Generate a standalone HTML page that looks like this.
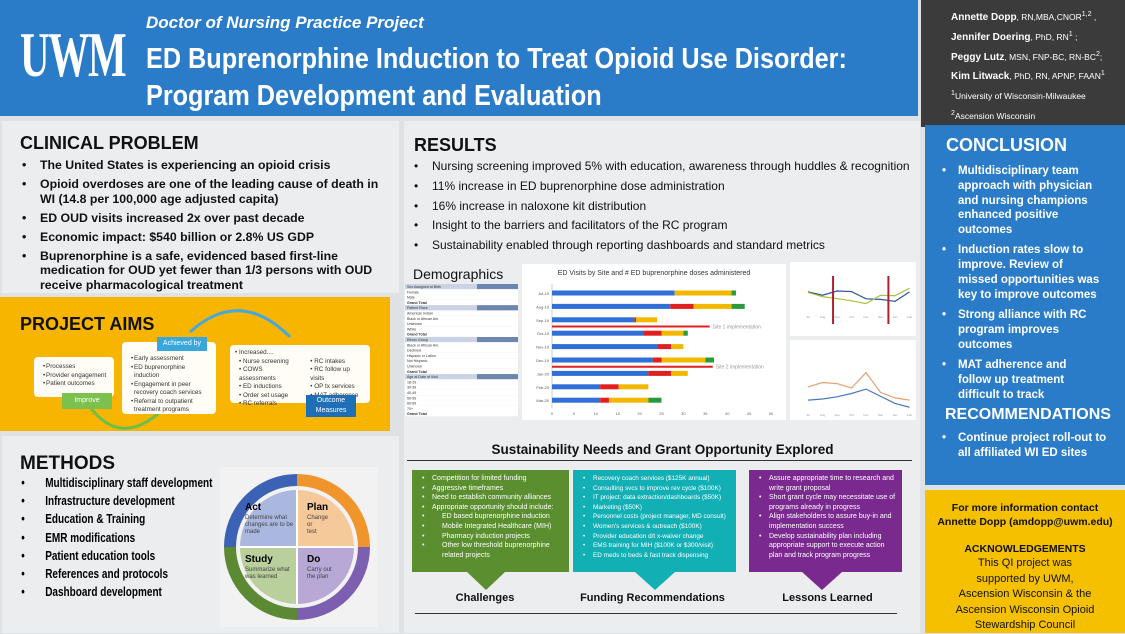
<!DOCTYPE html>
<html><head><meta charset="utf-8"><style>
*{margin:0;padding:0;box-sizing:border-box}
body{width:1125px;height:633px;overflow:hidden;background:#dfe2e5;font-family:"Liberation Sans",sans-serif;position:relative}
.abs{position:absolute}
.panel{position:absolute;background:#ebedef}
h2{font-size:18px;font-weight:bold;color:#111;position:absolute}
ul{list-style:none;position:absolute}
li{position:relative;padding-left:22px}
li:before{content:"•";position:absolute;left:4px}
.cp li{font-size:12.3px;font-weight:bold;line-height:14.5px;color:#111;margin-bottom:4.5px}
.res li{font-size:12px;line-height:19.8px;color:#111}
.con li{font-size:11.5px;font-weight:bold;color:#fff;line-height:14.8px;margin-bottom:5.5px;padding-left:20px}
.met li{font-size:12.5px;font-weight:bold;line-height:18.2px;padding-left:34px}
.box{position:absolute;background:#fffdf6;border-radius:4px;font-size:6.3px;color:#333;padding:4px 5px;line-height:8.5px}
.box li{padding-left:7px}
.sus{position:absolute;color:#fff;font-size:7px;line-height:9.6px;padding:4px 6px}
.sus li{padding-left:14px}
.lbl{position:absolute;font-size:11px;font-weight:bold;color:#111;text-align:center}
</style></head><body>
<div class="abs" style="left:0;top:0;width:918px;height:116px;background:#2a7cc9"></div>
<div class="abs" style="left:20px;top:18px;color:#fff;font-family:'Liberation Serif',serif;font-size:64px;font-weight:bold;transform:scaleX(0.64);transform-origin:left top;letter-spacing:-2px">UWM</div>
<div class="abs" style="left:146px;top:13px;color:#fff;font-style:italic;font-weight:bold;font-size:17px">Doctor of Nursing Practice Project</div>
<div class="abs" style="left:146px;top:41px;color:#fff;font-weight:bold;font-size:29px;line-height:37px;transform:scaleX(0.87);transform-origin:left top;white-space:nowrap">ED Buprenorphine Induction to Treat Opioid Use Disorder:<br>Program Development and Evaluation</div>
<div class="abs" style="left:921px;top:0;width:204px;height:127px;background:#3b3b3b;color:#fff;font-size:8.5px;padding:6px 0 0 30px;line-height:17px;white-space:nowrap">
<b style="font-size:10px">Annette Dopp</b>, RN,MBA,CNOR<sup>1,2</sup> ,<br><b style="font-size:10px">Jennifer Doering</b>, PhD, RN<sup>1</sup> ;<br><b style="font-size:10px">Peggy Lutz</b>, MSN, FNP-BC, RN-BC<sup>2</sup>;<br><b style="font-size:10px">Kim Litwack</b>, PhD, RN, APNP, FAAN<sup>1</sup><br><sup>1</sup>University of Wisconsin-Milwaukee<br><sup>2</sup>Ascension Wisconsin</div>

<div class="panel" style="left:2px;top:121px;width:397px;height:172px"></div>
<h2 style="left:20px;top:133px">CLINICAL PROBLEM</h2>
<ul class="cp" style="left:18px;top:158px;width:370px">
<li>The United States is experiencing an opioid crisis</li>
<li>Opioid overdoses are one of the leading cause of death in WI (14.8 per 100,000 age adjusted capita)</li>
<li>ED OUD visits increased 2x over past decade</li>
<li>Economic impact: $540 billion or 2.8% US GDP</li>
<li>Buprenorphine is a safe, evidenced based first-line medication for OUD yet fewer than 1/3 persons with OUD receive pharmacological treatment</li></ul>

<div class="abs" style="left:0;top:297px;width:390px;height:134px;background:#f7b500"></div>
<h2 style="left:20px;top:314px">PROJECT AIMS</h2>
<svg class="abs" style="left:0;top:297px" width="390" height="134"><path d="M190 35 Q240 -10 290 40" stroke="#4aa8d8" stroke-width="3" fill="none"/><path d="M90 110 Q120 150 160 115" stroke="#6cbf4a" stroke-width="3" fill="none"/></svg>
<div class="box" style="left:34px;top:357px;width:80px;height:40px;padding-top:6px"><ul style="position:static"><li>Processes</li><li>Provider engagement</li><li>Patient outcomes</li></ul></div>
<div class="abs" style="left:62px;top:393px;width:50px;height:16px;background:#7cc04e;color:#fff;font-size:7px;text-align:center;line-height:16px">Improve</div>
<div class="box" style="left:122px;top:342px;width:94px;height:72px;padding-top:13px"><ul style="position:static"><li>Early assessment</li><li>ED buprenorphine induction</li><li>Engagement in peer recovery coach services</li><li>Referral to outpatient treatment programs</li></ul></div>
<div class="abs" style="left:157px;top:337px;width:50px;height:14px;background:#3aa7dc;color:#fff;font-size:7px;text-align:center;line-height:14px">Achieved by</div>
<div class="box" style="left:230px;top:345px;width:140px;height:58px">• Increased....<div style="display:flex;gap:10px;padding-left:4px"><div>• Nurse screening<br>• COWS assessments<br>• ED inductions<br>• Order set usage<br>• RC referrals</div><div>• RC intakes<br>• RC follow up visits<br>• OP tx services<br>• MAT adherence</div></div></div>
<div class="abs" style="left:306px;top:395px;width:50px;height:22px;background:#1e6fb8;color:#fff;font-size:7px;text-align:center;line-height:10px;padding-top:1px">Outcome Measures</div>

<div class="panel" style="left:2px;top:436px;width:397px;height:197px"></div>
<h2 style="left:20px;top:453px;font-size:19px">METHODS</h2>
<ul class="met" style="left:18px;top:474px;transform:scaleX(0.8);transform-origin:left top;white-space:nowrap">
<li>Multidisciplinary staff development</li><li>Infrastructure development</li><li>Education &amp; Training</li><li>EMR modifications</li><li>Patient education tools</li><li>References and protocols</li><li>Dashboard development</li></ul>
<svg class="abs" style="left:215px;top:465px" width="165" height="165">
<rect x="5" y="2" width="158" height="160" fill="#f2f2f2"/>
<path d="M82 25 A57 57 0 0 1 139 82 L82 82Z" fill="#f5c99a"/><path d="M139 82 A57 57 0 0 1 82 139 L82 82Z" fill="#b7a8d6"/><path d="M82 139 A57 57 0 0 1 25 82 L82 82Z" fill="#b9cf9c"/><path d="M25 82 A57 57 0 0 1 82 25 L82 82Z" fill="#aab8e0"/>
<path d="M82 15 A67 67 0 0 1 149 82" stroke="#f0952c" stroke-width="12" fill="none"/><path d="M149 82 A67 67 0 0 1 82 149" stroke="#7c5fb0" stroke-width="12" fill="none"/><path d="M82 149 A67 67 0 0 1 15 82" stroke="#5c8a34" stroke-width="12" fill="none"/><path d="M15 82 A67 67 0 0 1 82 15" stroke="#3b62b4" stroke-width="12" fill="none"/>
<line x1="82" y1="25" x2="82" y2="139" stroke="#fff" stroke-width="2"/><line x1="25" y1="82" x2="139" y2="82" stroke="#fff" stroke-width="2"/>
<text x="30" y="45" font-size="10" font-weight="bold">Act</text><text x="30" y="54" font-size="6" fill="#444">Determine what</text><text x="30" y="61" font-size="6" fill="#444">changes are to be</text><text x="30" y="68" font-size="6" fill="#444">made</text>
<text x="92" y="45" font-size="10" font-weight="bold">Plan</text><text x="92" y="54" font-size="6" fill="#444">Change</text><text x="92" y="61" font-size="6" fill="#444">or</text><text x="92" y="68" font-size="6" fill="#444">test</text>
<text x="30" y="97" font-size="10" font-weight="bold">Study</text><text x="30" y="106" font-size="6" fill="#444">Summarize what</text><text x="30" y="113" font-size="6" fill="#444">was learned</text>
<text x="92" y="97" font-size="10" font-weight="bold">Do</text><text x="92" y="106" font-size="6" fill="#444">Carry out</text><text x="92" y="113" font-size="6" fill="#444">the plan</text>
</svg>

<div class="panel" style="left:404px;top:121px;width:516px;height:512px"></div>
<h2 style="left:414px;top:135px">RESULTS</h2>
<ul class="res" style="left:410px;top:157px">
<li>Nursing screening improved 5% with education, awareness through huddles &amp; recognition</li>
<li>11% increase in ED buprenorphine dose administration</li>
<li>16% increase in naloxone kit distribution</li>
<li>Insight to the barriers and facilitators of the RC program</li>
<li>Sustainability enabled through reporting dashboards and standard metrics</li></ul>
<div class="abs" style="left:413px;top:266px;font-size:14px;color:#111">Demographics</div>
<svg class="abs" style="left:405px;top:284px" width="115" height="135" id="demo"></svg>

<svg class="abs" style="left:522px;top:264px" width="264" height="156" id="bar"></svg>
<svg class="abs" style="left:790px;top:262px" width="126" height="74" id="l1"></svg>
<svg class="abs" style="left:790px;top:340px" width="126" height="80" id="l2"></svg>

<div class="abs" style="left:405px;top:442px;width:515px;text-align:center;font-size:13.5px;font-weight:bold;color:#111">Sustainability Needs and Grant Opportunity Explored</div>
<div class="abs" style="left:407px;top:460px;width:505px;height:1px;background:#333"></div>
<div class="abs" style="left:415px;top:613px;width:482px;height:1px;background:#333"></div>
<div class="sus" style="left:412px;top:470px;width:157px;height:102px;background:#5b8e2e"><ul style="position:static"><li>Competition for limited funding</li><li>Aggressive timeframes</li><li>Need to establish community alliances</li><li>Appropriate opportunity should include:</li><li style="padding-left:24px">ED based buprenorphine induction</li><li style="padding-left:24px">Mobile Integrated Healthcare (MIH)</li><li style="padding-left:24px">Pharmacy induction projects</li><li style="padding-left:24px">Other low threshold buprenorphine related projects</li></ul></div>
<div class="sus" style="left:573px;top:470px;width:163px;height:102px;background:#12b0b5;font-size:6.4px;line-height:9.6px;white-space:nowrap"><ul style="position:static"><li>Recovery coach services ($125K annual)</li><li>Consulting svcs to improve rev cycle ($100K)</li><li>IT project: data extraction/dashboards ($50K)</li><li>Marketing ($50K)</li><li>Personnel costs (project manager, MD consult)</li><li>Women's services &amp; outreach ($100K)</li><li>Provider education d/t x-waiver change</li><li>EMS training for MIH ($100K or $300/visit)</li><li>ED meds to beds &amp; fast track dispensing</li></ul></div>
<div class="sus" style="left:749px;top:470px;width:153px;height:102px;background:#7a2a8f"><ul style="position:static"><li>Assure appropriate time to research and write grant proposal</li><li>Short grant cycle may necessitate use of programs already in progress</li><li>Align stakeholders to assure buy-in and implementation success</li><li>Develop sustainability plan including appropriate support to execute action plan and track program progress</li></ul></div>
<svg class="abs" style="left:405px;top:572px" width="515" height="20"><polygon points="62,0 100,0 81,18" fill="#5b8e2e"/><polygon points="230,0 270,0 250,18" fill="#12b0b5"/><polygon points="397,0 437,0 417,18" fill="#7a2a8f"/></svg>
<div class="lbl" style="left:420px;top:592px;width:130px">Challenges</div>
<div class="lbl" style="left:570px;top:592px;width:165px">Funding Recommendations</div>
<div class="lbl" style="left:750px;top:592px;width:155px">Lessons Learned</div>

<div class="abs" style="left:925px;top:125px;width:200px;height:360px;background:#2a7cc9"></div>
<div class="abs" style="left:946px;top:135px;color:#fff;font-size:18px;font-weight:bold">CONCLUSION</div>
<ul class="con" style="left:938px;top:164px;width:164px">
<li>Multidisciplinary team approach with physician and nursing champions enhanced positive outcomes</li>
<li>Induction rates slow to improve. Review of missed opportunities was key to improve outcomes</li>
<li>Strong alliance with RC program improves outcomes</li>
<li>MAT adherence and follow up treatment difficult to track</li></ul>
<div class="abs" style="left:945px;top:406px;color:#fff;font-size:16px;font-weight:bold">RECOMMENDATIONS</div>
<ul class="con" style="left:938px;top:431px;width:180px"><li>Continue project roll-out to all affiliated WI ED sites</li></ul>
<div class="abs" style="left:925px;top:490px;width:200px;height:143px;background:#f5c000;text-align:center;font-size:10.5px;color:#111;padding-top:12px;line-height:13.5px">
<b>For more information contact<br>Annette Dopp (amdopp@uwm.edu)</b><br><br><b>ACKNOWLEDGEMENTS</b><br><span style="font-size:11px;line-height:15.5px">This QI project was<br>supported by UWM,<br>Ascension Wisconsin &amp; the<br>Ascension Wisconsin Opioid<br>Stewardship Council</span></div>

<script>
const NS='http://www.w3.org/2000/svg';
function mk(p,t,a){const e=document.createElementNS(NS,t);for(const k in a)e.setAttribute(k,a[k]);p.appendChild(e);return e;}
// Bar chart data
const sites=['Jul-19','Aug-19','Sep-19','Oct-19','Nov-19','Dec-19','Jan-20','Feb-20','Mar-20'];
const blueVals=[28,27,18.8,20.9,24,23,22,11,11];
const redVals=[0,5.3,0.4,4.1,3.2,2,5.2,4.2,2];
const yellowVals=[13,8.7,4.8,5,2.8,10,3.8,6.8,9];
const greenVals=[1,3,0,1,0,2,0,0,3];
const xTicks=[0,5,10,15,20,25,30,35,40,45,50];
const impl=[{after:2,val:36,label:'Site 1 implementation'},{after:5,val:36.7,label:'Site 2 implementation'}];
const bar=document.getElementById('bar');
mk(bar,'rect',{x:0,y:0,width:264,height:156,fill:'#fff'});
const t=mk(bar,'text',{x:132,y:11,'font-size':7,'text-anchor':'middle',fill:'#333'});t.textContent='ED Visits by Site and # ED buprenorphine doses administered';
const X0=30,X1=249;const xs=v=>X0+v/50*(X1-X0);const ys=i=>29+i*13.4;
mk(bar,'line',{x1:X0,y1:20,x2:X0,y2:144,stroke:'#ccc'});
xTicks.forEach(v=>{const tx=mk(bar,'text',{x:xs(v),y:151,'font-size':4,'text-anchor':'middle',fill:'#666'});tx.textContent=v;});
const cols=['#2f6fd6','#e02020','#f2b800','#2a9a3a'];const series=[blueVals,redVals,yellowVals,greenVals];
sites.forEach((s,i)=>{const lb=mk(bar,'text',{x:X0-3,y:ys(i)+2,'font-size':4,'text-anchor':'end',fill:'#555'});lb.textContent=s;
let acc=0;series.forEach((sv,k)=>{if(sv[i]>0){const r=mk(bar,'rect',{x:xs(acc),y:ys(i)-2.5,width:xs(acc+sv[i])-xs(acc),height:5,fill:cols[k]});}acc+=sv[i];});});
impl.forEach(m=>{const y=ys(m.after)+6.7;mk(bar,'line',{x1:X0,y1:y,x2:xs(m.val),y2:y,stroke:'#e02020','stroke-width':2});const tx=mk(bar,'text',{x:xs(m.val)+3,y:y+2,'font-size':5,fill:'#999'});tx.textContent=m.label;});
// Line charts
const months=['Jul','Aug','Sep','Oct','Nov','Dec','Jan','Feb'];
const top1=[72,60,75,73,47,45,38,72];
const top2=[70,55,48,40,30,60,58,85];
const bot1=[42,50,48,40,68,32,22,18];
const bot2=[18,20,24,30,38,25,12,5];
function line(id,s1,s2,c1,c2,h,top,bot,vl){const g=document.getElementById(id);mk(g,'rect',{x:0,y:0,width:126,height:h,fill:'#fff'});
const x=i=>18+i*14.5;const y=v=>bot-(v/100)*(bot-top);
[[s1,c1],[s2,c2]].forEach(([s,c])=>{mk(g,'polyline',{points:s.map((v,i)=>x(i)+','+y(v)).join(' '),fill:'none',stroke:c,'stroke-width':1.2});});
(vl||[]).forEach(p=>mk(g,'line',{x1:x(p),y1:top-8,x2:x(p),y2:bot+12,stroke:'#b02030','stroke-width':2}));
months.forEach((m,i)=>{const tx=mk(g,'text',{x:x(i),y:bot+6,'font-size':3,'text-anchor':'middle',fill:'#999'});tx.textContent=m;});}
line('l1',top1,top2,'#3050a0','#a8c040',74,22,50,[3.8,12.2].map(v=>v/2.2));
line('l2',bot1,bot2,'#e8a070','#4a78c0',80,15,70,[]);
// demographics table
const demoRows=['Sex Assigned at Birth','Female','Male','Grand Total','Patient Race','American Indian','Black or African Am.','Unknown','White','Grand Total','Ethnic Group','Black or African Am.','Declined','Hispanic or Latino','Not Hispanic','Unknown','Grand Total','Age at Date of Visit','18-29','30-39','40-49','50-59','60-69','70+','Grand Total'];
const dm=document.getElementById('demo');
demoRows.forEach((r,i)=>{const y=i*5.3;const hdr=(i==0||i==4||i==10||i==17);
mk(dm,'rect',{x:0,y:y,width:113,height:5.1,fill:hdr?'#c9d3e3':'#fff'});if(hdr)mk(dm,'rect',{x:72,y:y,width:41,height:5.1,fill:'#6c86b0'});
const tx=mk(dm,'text',{x:2,y:y+4,'font-size':3.6,fill:'#333','font-weight':r=='Grand Total'?'bold':'normal'});tx.textContent=r;});
</script>
</body></html>
